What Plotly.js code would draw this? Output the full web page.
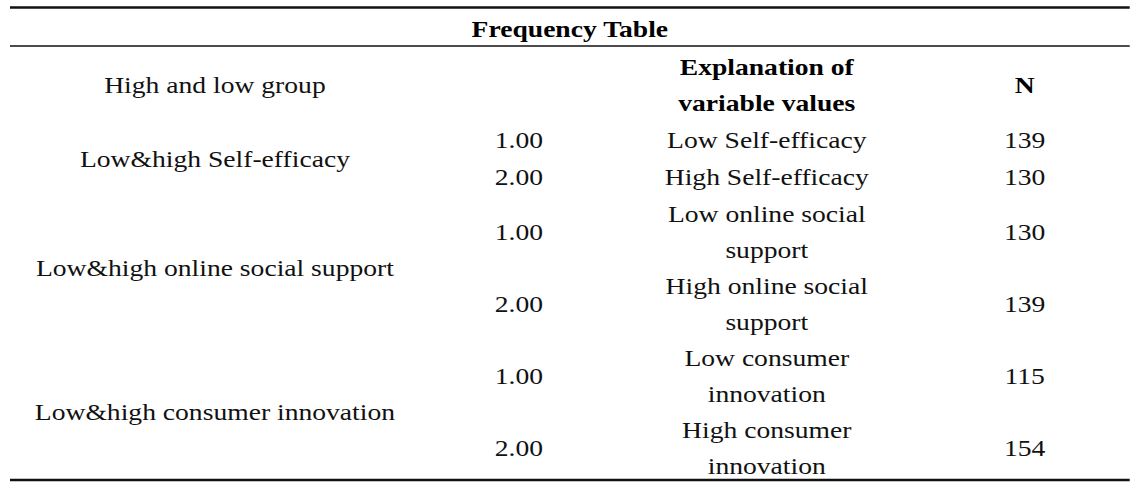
<!DOCTYPE html>
<html>
<head>
<meta charset="utf-8">
<script src="https://cdn.plot.ly/plotly-3.0.1.min.js"></script>
<style>
html,body{margin:0;padding:0;background:#fff;overflow:hidden;}
#wrap{width:1148px;height:485px;overflow:hidden;}
#chart{transform-origin:0 0;}
</style>
</head>
<body>
<div id="wrap"><div id="chart"></div></div>
<script>
// ---- data ----
const tableTitle = "Frequency Table";
const headers = ["High and low group", "", "Explanation of\nvariable values", "N"];
const groups = ["Low&high Self-efficacy", "Low&high online social support", "Low&high consumer innovation"];
const groupRows = [[0, 1], [2, 3], [4, 5]];
const values = ["1.00", "2.00", "1.00", "2.00", "1.00", "2.00"];
const explanations = ["Low Self-efficacy", "High Self-efficacy", "Low online social\nsupport", "High online social\nsupport", "Low consumer\ninnovation", "High consumer\ninnovation"];
const counts = [139, 130, 130, 139, 115, 154];

// ---- layout helpers ----
const STRETCH = 1.15;
const W = 1148, H = 485;
const plotW = W / STRETCH;
const colX = [215, 519, 767, 1025];
const LINE = 36;
const FONT = "Liberation Serif, Times New Roman, serif";
const FS = 24;

const xs = [], ys = [], ts = [];
const bxs = [], bys = [], bts = [];
function addCell(text, col, top, height, bold) {
  const lines = String(text).split("\n");
  const c = top + height / 2;
  lines.forEach((ln, i) => {
    const y = c + (i - (lines.length - 1) / 2) * LINE;
    if (bold) { bxs.push(colX[col]); bys.push(y); bts.push(ln); }
    else { xs.push(colX[col]); ys.push(y); ts.push(ln); }
  });
}
// header
const headTop = 51, headH = 73;
headers.forEach((h, i) => { if (h) addCell(h, i, headTop, headH, i >= 2); });
// rows
const rowH = explanations.map(e => e.split("\n").length === 1 ? 37 : 72);
const rowTop = [];
let t = headTop + headH;
rowH.forEach(h => { rowTop.push(t); t += h; });
for (let r = 0; r < values.length; r++) {
  addCell(values[r], 1, rowTop[r], rowH[r], false);
  addCell(explanations[r], 2, rowTop[r], rowH[r], false);
  addCell(String(counts[r]), 3, rowTop[r], rowH[r], false);
}
groups.forEach((g, i) => {
  const a = groupRows[i][0], b = groupRows[i][groupRows[i].length - 1];
  addCell(g, 0, rowTop[a], rowTop[b] + rowH[b] - rowTop[a], false);
});
// title
bxs.push(570); bys.push(31.5); bts.push(tableTitle);

const traces = [
  {type: "scatter", mode: "text", x: xs, y: ys, text: ts, textposition: "middle center",
   textfont: {family: FONT, size: FS, color: "#111"}, hoverinfo: "skip", showlegend: false},
  {type: "scatter", mode: "text", x: bxs, y: bys, text: bts, textposition: "middle center",
   textfont: {family: FONT, size: FS, color: "#000", weight: "bold"}, hoverinfo: "skip", showlegend: false}
];
const lineStyle = (w) => ({color: "#111", width: w});
const layout = {
  width: plotW, height: H,
  margin: {l: 0, r: 0, t: 0, b: 0},
  paper_bgcolor: "#fff", plot_bgcolor: "#fff",
  xaxis: {range: [0, W], visible: false, fixedrange: true},
  yaxis: {range: [H, 0], visible: false, fixedrange: true},
  shapes: [
    {type: "line", xref: "x", yref: "y", x0: 10, x1: 1130, y0: 7.5, y1: 7.5, line: lineStyle(2.5)},
    {type: "line", xref: "x", yref: "y", x0: 10, x1: 1130, y0: 46, y1: 46, line: lineStyle(1.4)},
    {type: "line", xref: "x", yref: "y", x0: 10, x1: 1130, y0: 480, y1: 480, line: lineStyle(2.5)}
  ]
};
const el = document.getElementById("chart");
el.style.transform = "scaleX(" + STRETCH + ")";
Plotly.newPlot(el, traces, layout, {staticPlot: true, displayModeBar: false});
</script>
</body>
</html>
